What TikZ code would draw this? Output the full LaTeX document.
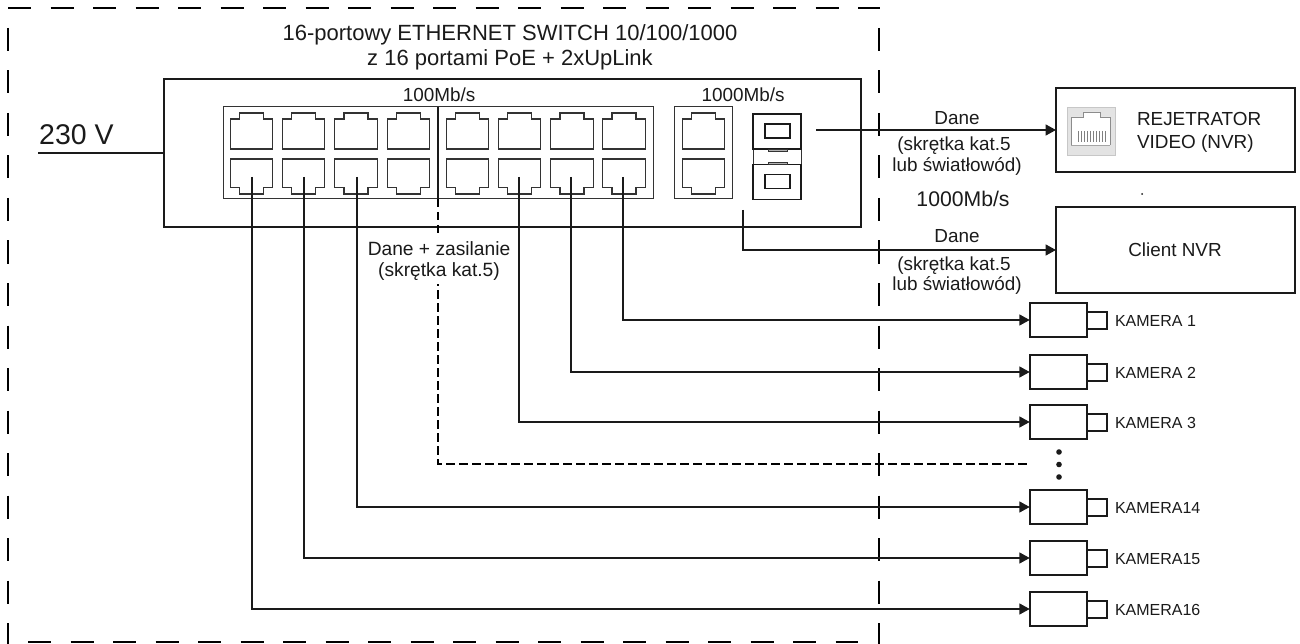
\documentclass[tikz,border=0pt]{standalone}
\usepackage{fontspec}
\setmainfont{Liberation Sans}
\usetikzlibrary{arrows.meta}
\definecolor{ink}{HTML}{1A1A1A}
\definecolor{soft}{HTML}{333333}
\tikzset{
  box/.style={draw=ink,line width=2.2pt,inner sep=0pt,outer sep=0pt,fill=white},
  group/.style={draw=soft,line width=1pt,inner sep=0pt,outer sep=0pt},
  sfpbox/.style={draw=ink,line width=1.6pt,inner sep=0pt,outer sep=0pt,minimum width=48pt,minimum height=35pt},
  sfpslot/.style={draw=ink,line width=1.6pt,inner sep=0pt,outer sep=0pt,minimum width=25pt,minimum height=14pt},
  sfptab/.style={draw=soft,fill=gray!60,line width=.8pt,inner sep=0pt,outer sep=0pt,minimum width=19pt,minimum height=2.2pt},
  cam/.style={draw=ink,line width=2pt,inner sep=0pt,outer sep=0pt,fill=white,minimum width=57.5pt,minimum height=34pt},
  lens/.style={draw=ink,line width=2pt,inner sep=0pt,outer sep=0pt,fill=white,minimum width=19.5pt,minimum height=17pt,anchor=west},
  txt/.style={text=ink,inner sep=0pt,outer sep=0pt,font=\fontsize{18.9}{21}\selectfont,anchor=base},
  camtxt/.style={text=ink,inner sep=0pt,outer sep=0pt,font=\fontsize{16}{18}\selectfont,anchor=base west},
  wire/.style={draw=ink,line width=1.7pt},
  arrowwire/.style={wire,-{Triangle[length=10.5pt,width=11pt]}},
  border/.style={draw=black,line width=2pt,dash pattern=on 23pt off 19.5pt},
  dashwire/.style={draw=black,line width=1.8pt,dash pattern=on 8.5pt off 4.5pt},
  portline/.style={draw=soft,line width=1.3pt},
  rjtop/.pic={\draw[portline] (-21.3,18) -- (21.3,18) -- (21.3,-12) -- (12,-12) -- (12,-18) -- (-12,-18) -- (-12,-12) -- (-21.3,-12) -- cycle;},
  rjbot/.pic={\draw[portline] (-21.3,-17.5) -- (21.3,-17.5) -- (21.3,11) -- (12,11) -- (12,17.5) -- (-12,17.5) -- (-12,11) -- (-21.3,11) -- cycle;},
}
\begin{document}
\begin{tikzpicture}[x=1pt,y=-1pt]
\useasboundingbox (0,0) rectangle (1300,644);
% outer dashed frame
\coordinate (ftl) at (8,8);
\coordinate (ftr) at (880,8);
\coordinate (fla) at (8,28);
\coordinate (flb) at (8,644);
\coordinate (fba) at (28,642);
\coordinate (fbb) at (858,642);
\coordinate (fra) at (879,28);
\coordinate (frb) at (879,644);
\draw[border] (ftl) -- (ftr);
\draw[border] (fla) -- (flb);
\draw[border] (fba) -- (fbb);
\draw[border,line width=1.5pt] (fra) -- (frb);

% title and supply
\node[txt,align=center,anchor=center,font=\fontsize{22}{25}\selectfont] (title) at (510,47.5) {16-portowy ETHERNET SWITCH 10/100/1000\\z 16 portami PoE + 2xUpLink};
\node[text=ink,inner sep=0pt,anchor=base west,font=\fontsize{28.5}{30}\selectfont] (v230) at (39,145) {230 V};

% switch
\node[box,fill=none,minimum width=697pt,minimum height=148pt] (sw) at (512.5,153) {};
\coordinate (pwr) at (38,153);
\draw[wire] (pwr) -- (sw.west);
\node[group,minimum width=430pt,minimum height=92pt] (g1) at (438,153) {};
\node[group,minimum width=58pt,minimum height=92pt] (g2) at (703,153) {};
\foreach \i/\x/\w in {1/251.5/252,2/303.5/304,3/356/357,4/408.5/409,5/467.5/468,6/519.5/519,7/572/571,8/624/623,9/703.5/704}{
  \pic at (\x,131) {rjtop};
  \pic at (\x,176.5) {rjbot};
  \coordinate (b\i) at (\w,177);
}
\node[txt] (l100) at (439,102) {100Mb/s};
\node[txt] (l1000) at (743,102) {1000Mb/s};

% SFP cages
\draw[soft,line width=.8pt] (753,149) -- (753,165) (801,149) -- (801,165);
\node[sfpbox] (sfpa) at (777,131.5) {};
\node[sfpbox] (sfpb) at (777,182) {};
\node[sfpslot] (slota) at (777.5,131) {};
\node[sfpslot] (slotb) at (777.5,181.5) {};
\node[sfptab] at (777.5,150.3) {};
\node[sfptab] at (777.5,163.7) {};

% divider and the dashed run to further cameras
\coordinate (divt) at (438,107);
\coordinate (divb) at (438,199);
\coordinate (dashend) at (1028,464);
\draw[draw=ink,line width=2pt] (divt) -- (divb);
\draw[dashwire] (divb) |- (dashend);
\node[txt,fill=white,inner xsep=2pt,inner ysep=4pt,align=center,anchor=center,font=\fontsize{19.2}{21}\selectfont] (dz) at (439,261) {Dane + zasilanie\\(skrętka kat.5)};

% recorder boxes
\node[box,minimum width=239pt,minimum height=84pt] (nvr) at (1175.5,130) {};
\node[box,minimum width=239pt,minimum height=86pt] (client) at (1175.5,250) {};
\node[txt,anchor=base west] (t1) at (1137,126) {REJETRATOR};
\node[txt,anchor=base west] (t2) at (1137,149) {VIDEO (NVR)};
\node[txt] (t3) at (1175,256) {Client NVR};
\fill[ink] (1142,194) circle (1pt);

% RJ45 icon in the recorder
\fill[black!11] (1067,107) rectangle (1115.5,155);
\draw[black!22,line width=.6pt] (1067,107) rectangle (1115.5,155);
\fill[white] (1071,145) -- (1110,145) -- (1110,117) -- (1100,117) -- (1100,112) -- (1083,112) -- (1083,117) -- (1071,117) -- cycle;
\draw[black!45,line width=.6pt] (1071,145) -- (1071,117) -- (1083,117) -- (1083,112) -- (1100,112) -- (1100,117) -- (1110,117) -- (1110,145);
\foreach \x in {1078,1081,...,1106}{\draw[black!50,line width=.6pt] (\x,131) -- (\x,142);}
\draw[black!35,line width=.6pt] (1071,145) -- (1110,145);

% data links
\coordinate (upa) at (816,130);
\coordinate (upb) at (743,210);
\draw[arrowwire] (upa) -- (nvr.west);
\draw[arrowwire] (upb) |- (client.west);
\node[txt] (d1) at (957,125) {Dane};
\node[txt] (d2) at (954,151) {(skrętka kat.5};
\node[txt] (d3) at (957,172) {lub światłowód)};
\node[txt,font=\fontsize{21.2}{23}\selectfont] (m1) at (963,207) {1000Mb/s};
\node[txt] (d4) at (957,243) {Dane};
\node[txt] (d5) at (954,270) {(skrętka kat.5};
\node[txt] (d6) at (957,290) {lub światłowód)};

% cameras
\foreach \i/\y/\t in {1/320/KAMERA 1,2/372/KAMERA 2,3/422/KAMERA 3,14/507/KAMERA14,15/558/KAMERA15,16/609/KAMERA16}{
  \node[cam] (c\i) at (1058.5,\y) {};
  \node[lens] (n\i) at (c\i.east) {};
  \node[camtxt] (k\i) at (1115,\y+6) {\t};
}
\draw[arrowwire] (b8) |- (c1.west);
\draw[arrowwire] (b7) |- (c2.west);
\draw[arrowwire] (b6) |- (c3.west);
\draw[arrowwire] (b3) |- (c14.west);
\draw[arrowwire] (b2) |- (c15.west);
\draw[arrowwire] (b1) |- (c16.west);
\foreach \y in {452,464.5,477}{\fill[ink] (1059,\y) circle (2.8pt);}
\end{tikzpicture}
\end{document}
